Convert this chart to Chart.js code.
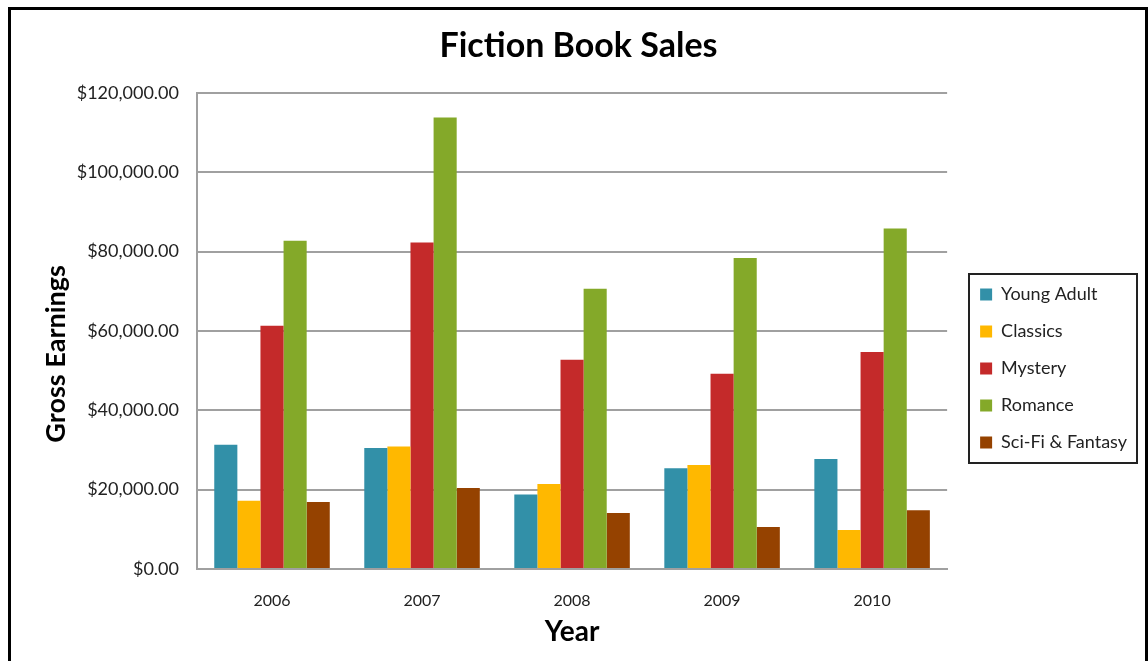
<!DOCTYPE html>
<html>
<head>
<meta charset="utf-8">
<script src="https://cdn.jsdelivr.net/npm/chart.js@4/dist/chart.umd.min.js"></script>
<style>
  html, body { margin: 0; padding: 0; background: #fff; }
  #wrap { position: relative; width: 1148px; height: 661px; }
</style>
</head>
<body>
<div id="wrap"><canvas id="salesChart" width="1148" height="661"></canvas></div>
<script>
const YEARS = ["2006", "2007", "2008", "2009", "2010"];

const YOUNG_ADULT = [31300, 30500, 18800, 25400, 27700];
const CLASSICS = [17200, 30900, 21400, 26200, 9800];
const MYSTERY = [61300, 82300, 52700, 49200, 54700];
const ROMANCE = [82700, 113800, 70600, 78400, 85800];
const SCI_FI = [16900, 20400, 14100, 10600, 14800];

const Y_MIN = 0;
const Y_MAX = 120000;
const Y_STEP = 20000;

const FONT = "Lato, 'Open Sans', sans-serif";

// Excel style frame round the whole chart + a box round the legend
const framePlugin = {
  id: 'frame',
  afterLayout(chart) {
    // Excel centres the legend on the whole chart, not the plot area
    const lg = chart.legend;
    lg.top += 30;
    lg.bottom += 30;
    lg.left += 14;
    lg.right += 14;
  },
  afterDraw(chart) {
    const ctx = chart.ctx;
    ctx.save();
    ctx.strokeStyle = '#000';
    ctx.lineWidth = 3;
    ctx.strokeRect(9.5, 8.5, 1137, 700);

    ctx.lineWidth = 2;
    ctx.strokeStyle = '#222';
    ctx.strokeRect(969, 274, 168, 189);
    ctx.restore();
  }
};

const money = v => '$' + v.toLocaleString('en-US', { minimumFractionDigits: 2, maximumFractionDigits: 2 });

const ctx = document.getElementById('salesChart');
new Chart(ctx, {
  type: 'bar',
  data: {
    labels: YEARS,
    datasets: [
      { label: 'Young Adult', data: YOUNG_ADULT, backgroundColor: '#3290A8' },
      { label: 'Classics', data: CLASSICS, backgroundColor: '#FFB800' },
      { label: 'Mystery', data: MYSTERY, backgroundColor: '#C42A2A' },
      { label: 'Romance', data: ROMANCE, backgroundColor: '#84A929' },
      { label: 'Sci-Fi & Fantasy', data: SCI_FI, backgroundColor: '#954200' }
    ]
  },
  options: {
    responsive: false,
    animation: false,
    devicePixelRatio: 1,
    layout: { padding: { left: 34, right: 25, top: 16, bottom: 0 } },
    datasets: {
      bar: { categoryPercentage: 0.77, barPercentage: 1.0 }
    },
    plugins: {
      title: {
        display: true,
        text: 'Fiction Book Sales',
        color: '#000',
        font: { family: FONT, size: 34, weight: 'bold' },
        padding: { top: 10, bottom: 26 }
      },
      legend: {
        position: 'right',
        labels: {
          color: '#222',
          font: { family: FONT, size: 18 },
          boxWidth: 12,
          boxHeight: 12,
          padding: 19
        }
      },
      tooltip: { enabled: false }
    },
    scales: {
      x: {
        grid: { display: false, drawTicks: false },
        border: { color: '#a0a0a0', width: 2 },
        ticks: { color: '#222', font: { family: FONT, size: 16 }, padding: 22 },
        title: {
          display: true,
          text: 'Year',
          color: '#000',
          font: { family: FONT, size: 28, weight: 'bold' },
          padding: { top: 0, bottom: 12 }
        },
        afterFit(scale) { scale.height = 92; }
      },
      y: {
        min: Y_MIN,
        max: Y_MAX,
        grid: { color: '#a0a0a0', lineWidth: 2, drawTicks: false },
        border: { color: '#a0a0a0', width: 2 },
        ticks: {
          stepSize: Y_STEP,
          color: '#222',
          font: { family: FONT, size: 18 },
          padding: 18,
          callback: v => money(v)
        },
        title: {
          display: true,
          // trailing spaces push the label down, as Excel placed it
          text: 'Gross Earnings       ',
          color: '#000',
          font: { family: FONT, size: 27, weight: 'bold' },
          padding: { top: 6, bottom: 0 }
        },
        afterFit(scale) { scale.width = 163; }
      }
    }
  },
  plugins: [framePlugin]
});
</script>
</body>
</html>
